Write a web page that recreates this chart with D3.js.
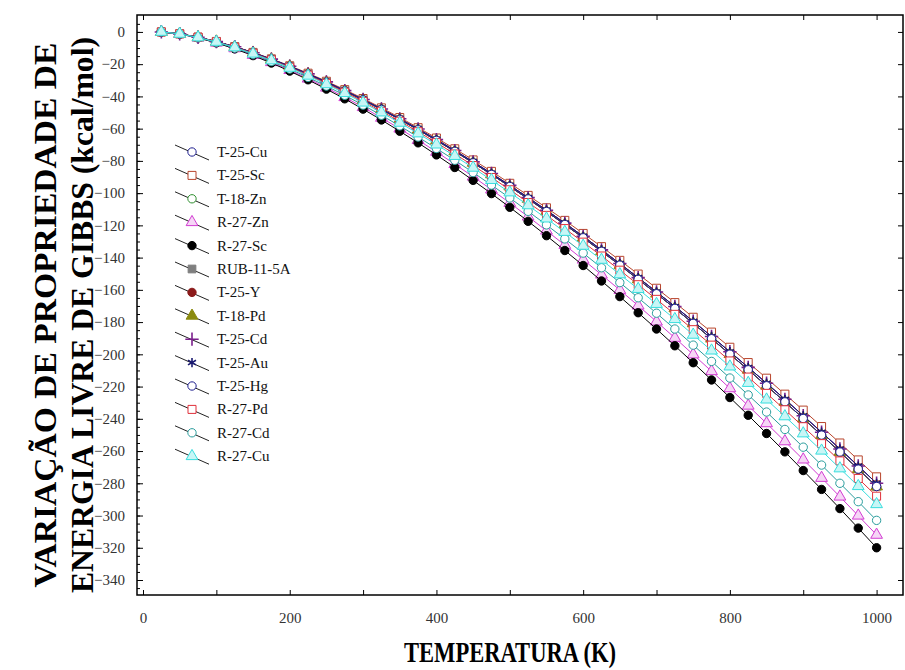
<!DOCTYPE html>
<html>
<head>
<meta charset="utf-8">
<script src="https://cdn.jsdelivr.net/npm/d3@7"></script>
<style>
  body { margin: 0; background: #fff; }
  text { font-family: "Liberation Serif", "Times New Roman", serif; }
</style>
</head>
<body>
<svg id="chart" width="905" height="670"></svg>
<script>
// temperatures (K)
const temperature = [25,50,75,100,125,150,175,200,225,250,275,300,325,350,375,400,425,450,475,500,
  525,550,575,600,625,650,675,700,725,750,775,800,825,850,875,900,925,950,975,1000];

// variation of Gibbs free energy (kcal/mol)
const tCu25 = [0,-1.2,-3.3,-6.0,-9.2,-12.9,-16.9,-21.3,-26.0,-31.0,-36.4,-41.9,-47.8,-53.9,-60.2,-66.8,-73.6,-80.6,-87.8,-95.2,
  -102.8,-110.6,-118.6,-126.8,-135.2,-143.7,-152.4,-161.3,-170.3,-179.5,-188.9,-198.4,-208.1,-217.9,-227.9,-238.1,-248.3,-258.7,-269.3,-280.0];
const tSc25 = [0,-1.1,-3.2,-5.9,-9.1,-12.7,-16.7,-21.0,-25.6,-30.6,-35.8,-41.3,-47.1,-53.1,-59.4,-65.8,-72.5,-79.4,-86.5,-93.9,
  -101.4,-109.1,-116.9,-125.0,-133.2,-141.7,-150.2,-159.0,-167.9,-177.0,-186.2,-195.6,-205.1,-214.8,-224.7,-234.6,-244.8,-255.0,-265.5,-276.0];
const tZn18 = [0,-1.2,-3.3,-6.0,-9.3,-12.9,-17.0,-21.4,-26.2,-31.3,-36.6,-42.2,-48.1,-54.3,-60.7,-67.3,-74.1,-81.2,-88.4,-95.9,
  -103.6,-111.4,-119.5,-127.7,-136.1,-144.7,-153.5,-162.4,-171.5,-180.8,-190.3,-199.9,-209.6,-219.5,-229.5,-239.8,-250.1,-260.6,-271.2,-282.0];
const rZn27 = [0,-1.3,-3.6,-6.7,-10.2,-14.3,-18.8,-23.7,-29.0,-34.6,-40.5,-46.7,-53.3,-60.0,-67.1,-74.4,-82.0,-89.8,-97.8,-106.1,
  -114.6,-123.3,-132.2,-141.3,-150.6,-160.1,-169.8,-179.7,-189.8,-200.1,-210.5,-221.1,-231.9,-242.8,-254.0,-265.3,-276.7,-288.3,-300.1,-312.0];
const rSc27 = [0,-1.3,-3.7,-6.8,-10.5,-14.7,-19.3,-24.3,-29.7,-35.5,-41.5,-47.9,-54.6,-61.6,-68.8,-76.3,-84.1,-92.1,-100.3,-108.8,
  -117.5,-126.4,-135.6,-144.9,-154.5,-164.2,-174.2,-184.3,-194.7,-205.2,-215.9,-226.8,-237.8,-249.1,-260.5,-272.1,-283.8,-295.7,-307.8,-320.0];
const rub115A = [0,-1.2,-3.3,-6.0,-9.3,-12.9,-17.0,-21.4,-26.2,-31.3,-36.6,-42.2,-48.1,-54.3,-60.7,-67.3,-74.1,-81.2,-88.4,-95.9,
  -103.6,-111.4,-119.5,-127.7,-136.1,-144.7,-153.5,-162.4,-171.5,-180.8,-190.3,-199.9,-209.6,-219.5,-229.5,-239.8,-250.1,-260.6,-271.2,-282.0];
const tY25 = [0,-1.2,-3.3,-6.0,-9.3,-12.9,-17.0,-21.4,-26.2,-31.3,-36.6,-42.2,-48.1,-54.3,-60.7,-67.3,-74.1,-81.2,-88.4,-95.9,
  -103.6,-111.4,-119.5,-127.7,-136.1,-144.7,-153.5,-162.4,-171.5,-180.8,-190.3,-199.9,-209.6,-219.5,-229.5,-239.8,-250.1,-260.6,-271.2,-282.0];
const tPd18 = [0,-1.2,-3.3,-6.0,-9.3,-12.9,-17.0,-21.4,-26.2,-31.3,-36.6,-42.2,-48.1,-54.3,-60.7,-67.3,-74.1,-81.2,-88.4,-95.9,
  -103.6,-111.4,-119.5,-127.7,-136.1,-144.7,-153.5,-162.4,-171.5,-180.8,-190.3,-199.9,-209.6,-219.5,-229.5,-239.8,-250.1,-260.6,-271.2,-282.0];
const tCd25 = [0,-1.2,-3.3,-6.0,-9.2,-12.9,-16.9,-21.3,-26.0,-31.0,-36.4,-41.9,-47.8,-53.9,-60.2,-66.8,-73.6,-80.6,-87.8,-95.2,
  -102.8,-110.6,-118.6,-126.8,-135.2,-143.7,-152.4,-161.3,-170.3,-179.5,-188.9,-198.4,-208.1,-217.9,-227.9,-238.1,-248.3,-258.7,-269.3,-280.0];
const tAu25 = [0,-1.2,-3.3,-6.0,-9.2,-12.9,-16.9,-21.3,-26.0,-31.0,-36.4,-41.9,-47.8,-53.9,-60.2,-66.8,-73.6,-80.6,-87.8,-95.2,
  -102.8,-110.6,-118.6,-126.8,-135.2,-143.7,-152.4,-161.3,-170.3,-179.5,-188.9,-198.4,-208.1,-217.9,-227.9,-238.1,-248.3,-258.7,-269.3,-280.0];
const tHg25 = [0,-1.2,-3.3,-6.0,-9.3,-12.9,-17.0,-21.4,-26.2,-31.3,-36.6,-42.2,-48.1,-54.3,-60.7,-67.3,-74.1,-81.2,-88.4,-95.9,
  -103.6,-111.4,-119.5,-127.7,-136.1,-144.7,-153.5,-162.4,-171.5,-180.8,-190.3,-199.9,-209.6,-219.5,-229.5,-239.8,-250.1,-260.6,-271.2,-282.0];
const rPd27 = [0,-1.2,-3.3,-6.1,-9.5,-13.2,-17.4,-21.9,-26.8,-31.9,-37.4,-43.1,-49.2,-55.4,-61.9,-68.7,-75.7,-82.9,-90.3,-97.9,
  -105.8,-113.8,-122.0,-130.4,-139.0,-147.8,-156.8,-165.9,-175.2,-184.7,-194.3,-204.1,-214.1,-224.2,-234.4,-244.9,-255.4,-266.1,-277.0,-288.0];
const rCd27 = [0,-1.2,-3.5,-6.5,-10.0,-13.9,-18.3,-23.0,-28.2,-33.6,-39.3,-45.4,-51.7,-58.3,-65.2,-72.3,-79.6,-87.2,-95.0,-103.0,
  -111.3,-119.7,-128.4,-137.2,-146.3,-155.5,-164.9,-174.5,-184.3,-194.3,-204.4,-214.7,-225.2,-235.8,-246.6,-257.6,-268.7,-280.0,-291.4,-303.0];
const rCu27 = [0,-1.2,-3.4,-6.2,-9.6,-13.5,-17.7,-22.3,-27.2,-32.5,-38.0,-43.9,-50.0,-56.4,-63.0,-69.9,-77.0,-84.3,-91.9,-99.6,
  -107.6,-115.8,-124.1,-132.7,-141.4,-150.4,-159.5,-168.8,-178.2,-187.9,-197.7,-207.6,-217.8,-228.1,-238.5,-249.1,-259.8,-270.8,-281.8,-293.0];

const seriesNames = ["T-25-Cu","T-25-Sc","T-18-Zn","R-27-Zn","R-27-Sc","RUB-11-5A","T-25-Y",
  "T-18-Pd","T-25-Cd","T-25-Au","T-25-Hg","R-27-Pd","R-27-Cd","R-27-Cu"];
const seriesValues = [tCu25, tSc25, tZn18, rZn27, rSc27, rub115A, tY25, tPd18, tCd25, tAu25, tHg25, rPd27, rCd27, rCu27];

const xTicks = [0,100,200,300,400,500,600,700,800,900,1000];
const yTicks = [0,-20,-40,-60,-80,-100,-120,-140,-160,-180,-200,-220,-240,-260,-280,-300,-320,-340];

// marker styles per series
const styles = [
  {color: "#1f1f8f", shape: d3.symbolCircle, size: 55, fill: "#fff"},
  {color: "#b8452c", shape: d3.symbolSquare, size: 64, fill: "#fff"},
  {color: "#2f8f2f", shape: d3.symbolCircle, size: 55, fill: "#fff"},
  {color: "#d23cd2", shape: d3.symbolTriangle, size: 60, fill: "#f6d6f6"},
  {color: "#000000", shape: d3.symbolCircle, size: 55, fill: "#000"},
  {color: "#7f7f7f", shape: d3.symbolSquare, size: 60, fill: "#7f7f7f"},
  {color: "#8b1a1a", shape: d3.symbolCircle, size: 55, fill: "#8b1a1a"},
  {color: "#8b8b10", shape: d3.symbolTriangle, size: 60, fill: "#8b8b10"},
  {color: "#7a1f8c", shape: d3.symbolPlus, size: 60, fill: "none"},
  {color: "#191970", shape: d3.symbolAsterisk, size: 60, fill: "none"},
  {color: "#1f1f8f", shape: d3.symbolCircle, size: 55, fill: "#fff"},
  {color: "#e0303a", shape: d3.symbolSquare, size: 64, fill: "#fff"},
  {color: "#2a9d9d", shape: d3.symbolCircle, size: 55, fill: "#fff"},
  {color: "#38dede", shape: d3.symbolTriangle, size: 60, fill: "#c8f6f6"}
];

let margin = {top: 15, right: 2, bottom: 75, left: 137};
let width = 905, height = 670;

let svg = d3.select("#chart");

let x = d3.scaleLinear().domain([-8.2, 1036]).range([margin.left, width - margin.right]);
let y = d3.scaleLinear().domain([-349.3, 10.5]).range([height - margin.bottom, margin.top]);

let bottom = height - margin.bottom, right = width - margin.right;

// frame
svg.append("rect")
  .attr("x", margin.left).attr("y", margin.top)
  .attr("width", right - margin.left).attr("height", bottom - margin.top)
  .attr("fill", "none").attr("stroke", "#000").attr("stroke-width", 1.5);

// x axis (ticks inward)
svg.append("g")
  .attr("transform", "translate(0," + bottom + ")")
  .call(d3.axisBottom(x).tickValues(xTicks).tickSize(-5).tickPadding(17)
    .tickFormat(d => d % 200 === 0 ? d : ""));
svg.append("g")
  .attr("transform", "translate(0," + margin.top + ")")
  .call(d3.axisTop(x).tickValues(xTicks).tickSize(-5).tickFormat(""));

// y axis
svg.append("g")
  .attr("transform", "translate(" + margin.left + ",0)")
  .call(d3.axisLeft(y).tickValues(yTicks).tickSize(-6).tickPadding(12));
svg.append("g")
  .attr("transform", "translate(" + margin.left + ",0)")
  .call(d3.axisLeft(y).tickValues(d3.range(5, -346, -5)).tickSize(-3).tickFormat(""));
svg.append("g")
  .attr("transform", "translate(" + right + ",0)")
  .call(d3.axisRight(y).tickValues(yTicks).tickSize(-5).tickFormat(""));

svg.selectAll(".domain").remove();
svg.selectAll(".tick line").attr("stroke", "#000");
svg.selectAll(".tick text")
  .attr("font-size", 15)
  .attr("fill", "#333")
  .style("font-family", "'Liberation Serif', serif");

// series
let line = d3.line()
  .x((d, i) => x(temperature[i]))
  .y(d => y(d));

let plot = svg.append("g");
seriesValues.forEach((vals, s) => {
  let st = styles[s];
  let g = plot.append("g");
  g.append("path")
    .datum(vals)
    .attr("d", line)
    .attr("fill", "none")
    .attr("stroke", st.color)
    .attr("stroke-width", 1);
  g.selectAll("path.mark")
    .data(vals)
    .join("path")
    .attr("class", "mark")
    .attr("transform", (d, i) => "translate(" + x(temperature[i]) + "," + y(d) + ")")
    .attr("d", d3.symbol().type(st.shape).size(st.size))
    .attr("fill", st.fill)
    .attr("stroke", st.color)
    .attr("stroke-width", st.fill === "none" ? 1.6 : 1);
});

// legend
let legend = svg.append("g");
seriesNames.forEach((name, i) => {
  let st = styles[i];
  let ly = 152 + i * 23.4;
  legend.append("line")
    .attr("x1", 175).attr("y1", ly - 7)
    .attr("x2", 209).attr("y2", ly + 8)
    .attr("stroke", "#222").attr("stroke-width", 1);
  legend.append("path")
    .attr("transform", "translate(192," + ly + ")")
    .attr("d", d3.symbol().type(st.shape).size(st.size))
    .attr("fill", st.fill)
    .attr("stroke", st.color)
    .attr("stroke-width", st.fill === "none" ? 1.6 : 1);
  legend.append("text")
    .attr("x", 217).attr("y", ly + 5)
    .attr("font-size", 15)
    .attr("fill", "#111")
    .text(name);
});

// axis titles
svg.append("text")
  .attr("x", 510).attr("y", 662)
  .attr("text-anchor", "middle")
  .attr("font-size", 30).attr("font-weight", "bold")
  .attr("textLength", 212).attr("lengthAdjust", "spacingAndGlyphs")
  .text("TEMPERATURA (K)");

svg.append("text")
  .attr("transform", "translate(56,315) rotate(-90)")
  .attr("text-anchor", "middle")
  .attr("font-size", 31).attr("font-weight", "bold")
  .attr("textLength", 545).attr("lengthAdjust", "spacingAndGlyphs")
  .text("VARIAÇÃO DE PROPRIEDADE DE");

svg.append("text")
  .attr("transform", "translate(93,315) rotate(-90)")
  .attr("text-anchor", "middle")
  .attr("font-size", 31).attr("font-weight", "bold")
  .attr("textLength", 556).attr("lengthAdjust", "spacingAndGlyphs")
  .text("ENERGIA LIVRE DE GIBBS (kcal/mol)");
</script>
</body>
</html>
